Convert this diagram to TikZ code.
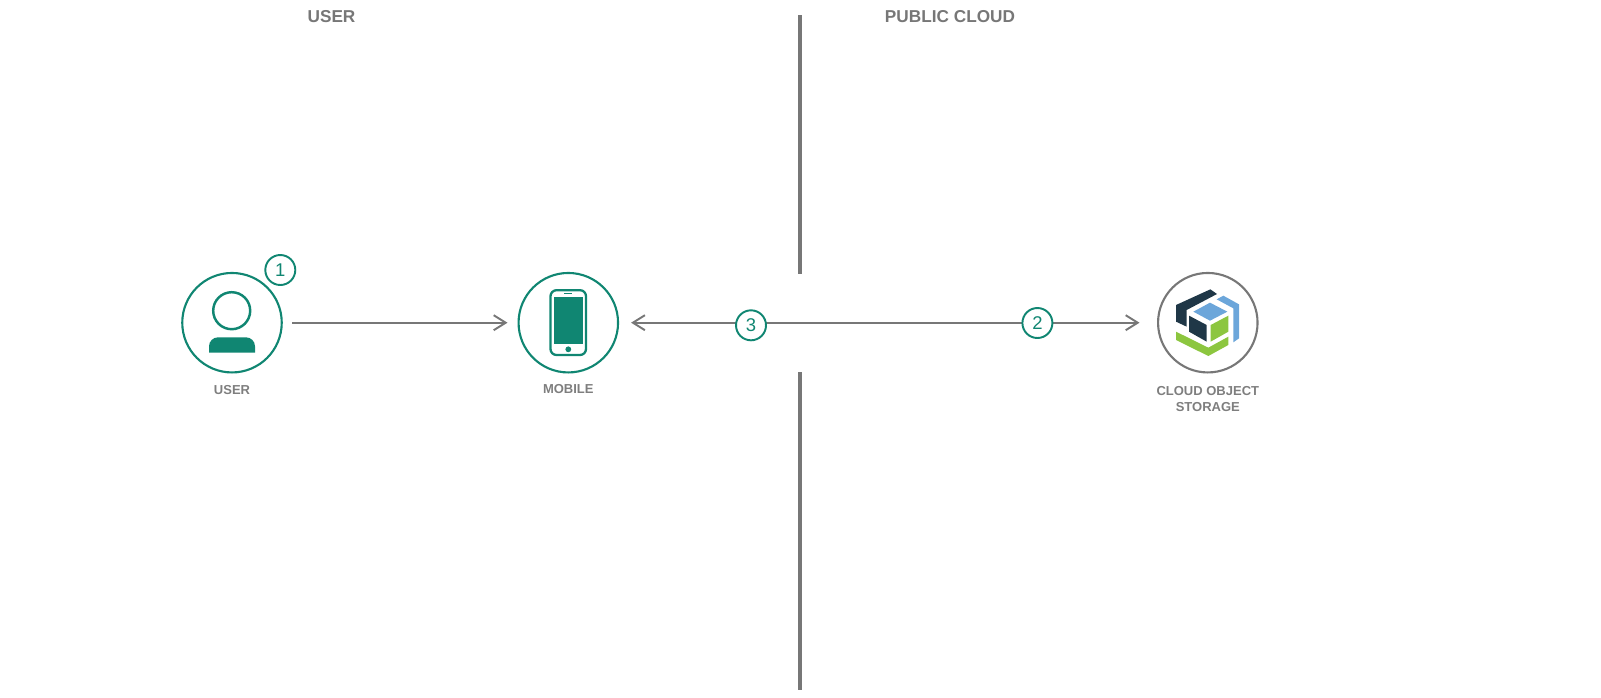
\documentclass[tikz,border=0pt]{standalone}
\usepackage{fontspec}
\setmainfont{Liberation Sans}
\usepackage{xcolor}
\usetikzlibrary{positioning, arrows.meta}
\definecolor{teal}{HTML}{108672}
\definecolor{midgrey}{HTML}{777777}
\definecolor{cubedark}{HTML}{1F3747}
\definecolor{cubeblue}{HTML}{6CA6DA}
\definecolor{cubegreen}{HTML}{8CC63F}

\begin{document}
\begin{tikzpicture}[
    x=0.02cm, y=-0.02cm,
    icon/.style={circle, draw=teal, line width=1.2pt, minimum size=1.99cm, inner sep=0pt},
    badge/.style={circle, draw=teal, fill=white, text=teal, line width=1.1pt, minimum size=0.6cm, inner sep=0pt, font=\fontsize{10.5}{12}\selectfont},
    heading/.style={text=midgrey, inner sep=0pt, font=\bfseries\fontsize{9.8}{12}\selectfont},
    caption/.style={text=midgrey!95, inner sep=0pt, align=center, font=\bfseries\fontsize{7.4}{9.07}\selectfont},
    flow/.style={draw=midgrey, line width=1.1pt},
    divider/.style={draw=midgrey, line width=2.2pt}
]
    \useasboundingbox (0,0) rectangle (1601,697);

    % headings and divider
    \node[heading] (userhead) at (331.5,16.4) {USER};
    \node[heading] (cloudhead) at (950,16.4) {PUBLIC CLOUD};
    \coordinate (divtop) at (800,15);
    \coordinate (divgapa) at (800,274);
    \coordinate (divgapb) at (800,372);
    \coordinate (divbottom) at (800,690);
    \draw[divider] (divtop) -- (divgapa);
    \draw[divider] (divgapb) -- (divbottom);

    % icons
    \node[icon] (user) at (232,322.7) {};
    \node[icon] (mobile) at (568.3,322.7) {};
    \node[icon, draw=midgrey] (cos) at (1207.8,322.7) {};
    \node[caption, below=0.24cm of user] (userlabel) {USER};
    \node[caption, below=0.21cm of mobile] (mobilelabel) {MOBILE};
    \node[caption, below=0.26cm of cos] (coslabel) {CLOUD OBJECT\\STORAGE};

    % connectors
    \draw[flow, -{Straight Barb[length=12*0.02cm, width=15*0.02cm]}, shorten <=0.19cm, shorten >=0.2cm] (user) -- (mobile);
    \draw[flow, {Straight Barb[length=12*0.02cm, width=15*0.02cm]}-{Straight Barb[length=12*0.02cm, width=15*0.02cm]}, shorten <=0.24cm, shorten >=0.35cm] (mobile) -- (cos);

    % step numbers
    \node[badge] (one) at (280.3,270) {1};
    \node[badge] (two) at (1037.4,323) {2};
    \node[badge] (three) at (751,325.3) {3};

    % person
    \draw[teal, line width=1.4pt] (231.7,310.7) circle (18.5);
    \fill[teal] (209,352.7) [rounded corners=0.18cm] -- (209,337.3) -- (255,337.3) [sharp corners] -- (255,352.7) -- cycle;

    % phone
    \draw[teal, line width=1.3pt, rounded corners=0.12cm] (550.5,290.2) rectangle (586,355);
    \fill[teal] (554,296.7) rectangle (583,344);
    \draw[teal, line width=0.8pt] (564.3,293.4) -- (572.3,293.4);
    \fill[teal] (568.3,349.3) circle (2.9);

    % cube
    \begin{scope}[shift={(1165,280)}, scale=0.3333]
        \fill[cubedark] (33,75) -- (136,28) -- (156,42) -- (65,90) -- (65,140) -- (33,125) -- cycle;
        \fill[cubedark] (72,107) -- (125,135) -- (125,185) -- (72,155) -- cycle;
        \fill[cubeblue] (85,95) -- (135,68) -- (187,95) -- (135,122) -- cycle;
        \fill[cubeblue] (155,58) -- (175,47) -- (222,73) -- (222,175) -- (205,187) -- (205,85) -- cycle;
        \fill[cubegreen] (137,135) -- (190,107) -- (190,155) -- (137,185) -- cycle;
        \fill[cubegreen] (33,155) -- (130,203) -- (190,170) -- (190,195) -- (130,228) -- (33,180) -- cycle;
    \end{scope}
\end{tikzpicture}
\end{document}
